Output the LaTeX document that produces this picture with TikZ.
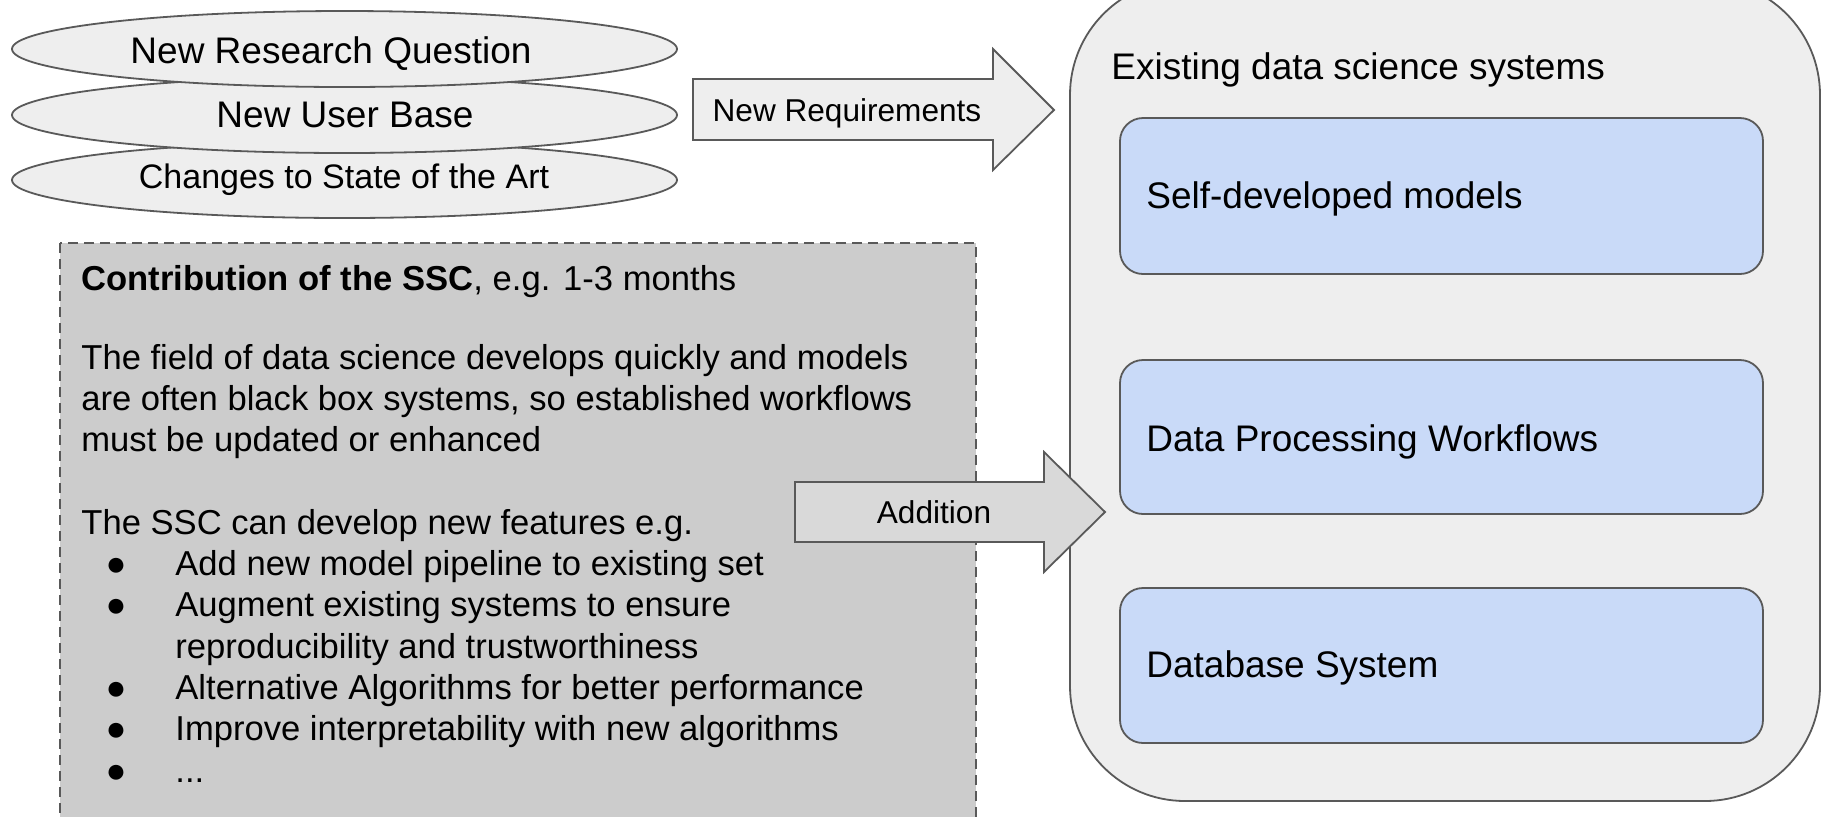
\documentclass[tikz,border=0pt]{standalone}
\usepackage{fontspec}
\setmainfont{Liberation Sans}
\usetikzlibrary{shapes.geometric}
\definecolor{bord}{HTML}{595959}
\definecolor{lgray}{HTML}{EEEEEE}
\definecolor{mgray}{HTML}{D9D9D9}
\definecolor{dgray}{HTML}{CCCCCC}
\definecolor{lblue}{HTML}{C9DAF8}
\begin{document}
\begin{tikzpicture}[x=0.5pt,y=-0.5pt,
  ell/.style={ellipse,draw=bord,fill=lgray,line width=0.9pt,minimum width=332.5pt,minimum height=38pt,inner sep=0pt},
  bigfont/.style={font=\fontsize{18.5pt}{22pt}\selectfont},
  midfont/.style={font=\fontsize{17.3pt}{20pt}\selectfont},
  arrfont/.style={font=\fontsize{15.8pt}{18pt}\selectfont},
  blockarrow/.style={draw=bord,line width=0.9pt},
  bluebox/.style={draw=bord,fill=lblue,line width=0.9pt,rounded corners=11.5pt},
  txt/.style={inner sep=0pt,anchor=base west,midfont},
  bul/.style={inner sep=0pt,anchor=center,midfont},
  lbl/.style={inner sep=0pt,anchor=base}
]
\useasboundingbox (0,0) rectangle (1821,816);
\begin{scope}
\clip (0,0) rectangle (1821,816);
% ellipses
\node[ell] (e3) at (344.5,180) {};
\node[lbl,font=\fontsize{17pt}{20pt}\selectfont] (t3) at (344,188) {Changes to State of the Art};
\node[ell] (e2) at (344.5,115) {};
\node[lbl,bigfont] (t2) at (345,127) {New User Base};
\node[ell] (e1) at (344.5,49) {};
\node[lbl,bigfont] (t1) at (331,63) {New Research Question};
% new requirements arrow
\coordinate (r0) at (693,79);
\filldraw[blockarrow,fill=lgray] (r0) -- (993,79) -- (993,49) -- (1054,110) -- (993,170) -- (993,140) -- (693,140) -- cycle;
\node[lbl,arrfont] (req) at (847,121) {New Requirements};
% dashed box
\filldraw[draw=bord,fill=dgray,line width=0.9pt,dash pattern=on 5pt off 3pt] (60,243) rectangle (976,840);
\node[txt] (c0) at (81,290) {\textbf{Contribution of the SSC}, e.g. 1-3 months};
\node[txt] (c1) at (81,369) {The field of data science develops quickly and models};
\node[txt] (c2) at (81,410.3) {are often black box systems, so established workflows};
\node[txt] (c3) at (81,451.6) {must be updated or enhanced};
\node[txt] (c4) at (81,534.2) {The SSC can develop new features e.g.};
\node[bul] (b1) at (116,567) {●};
\node[txt] (l1) at (175,575.5) {Add new model pipeline to existing set};
\node[bul] (b2) at (116,608.3) {●};
\node[txt] (l2) at (175,616.8) {Augment existing systems to ensure};
\node[txt] (l2b) at (175,658.1) {reproducibility and trustworthiness};
\node[bul] (b3) at (116,690.9) {●};
\node[txt] (l3) at (175,699.4) {Alternative Algorithms for better performance};
\node[bul] (b4) at (116,732.2) {●};
\node[txt] (l4) at (175,740.7) {Improve interpretability with new algorithms};
\node[bul] (b5) at (116,773.5) {●};
\node[txt] (l5) at (175,782) {...};
% container
\filldraw[draw=bord,fill=lgray,line width=0.9pt,rounded corners=57.5pt] (1070,-20) rectangle (1820,801);
\node[inner sep=0pt,anchor=base west,bigfont] (title) at (1111,79) {Existing data science systems};
\draw[bluebox] (1120,118) rectangle (1763,274);
\node[inner sep=0pt,anchor=base west,bigfont] (s1) at (1146,208) {Self-developed models};
\draw[bluebox] (1120,360) rectangle (1763,514);
\node[inner sep=0pt,anchor=base west,bigfont] (s2) at (1146,451) {Data Processing Workflows};
\draw[bluebox] (1120,588) rectangle (1763,743);
\node[inner sep=0pt,anchor=base west,bigfont] (s3) at (1146,677) {Database System};
% addition arrow
\coordinate (a0) at (795,482);
\filldraw[blockarrow,fill=mgray] (a0) -- (1044,482) -- (1044,452) -- (1105,512) -- (1044,572) -- (1044,542) -- (795,542) -- cycle;
\node[lbl,arrfont] (add) at (934,523) {Addition};
\end{scope}
\end{tikzpicture}
\end{document}
